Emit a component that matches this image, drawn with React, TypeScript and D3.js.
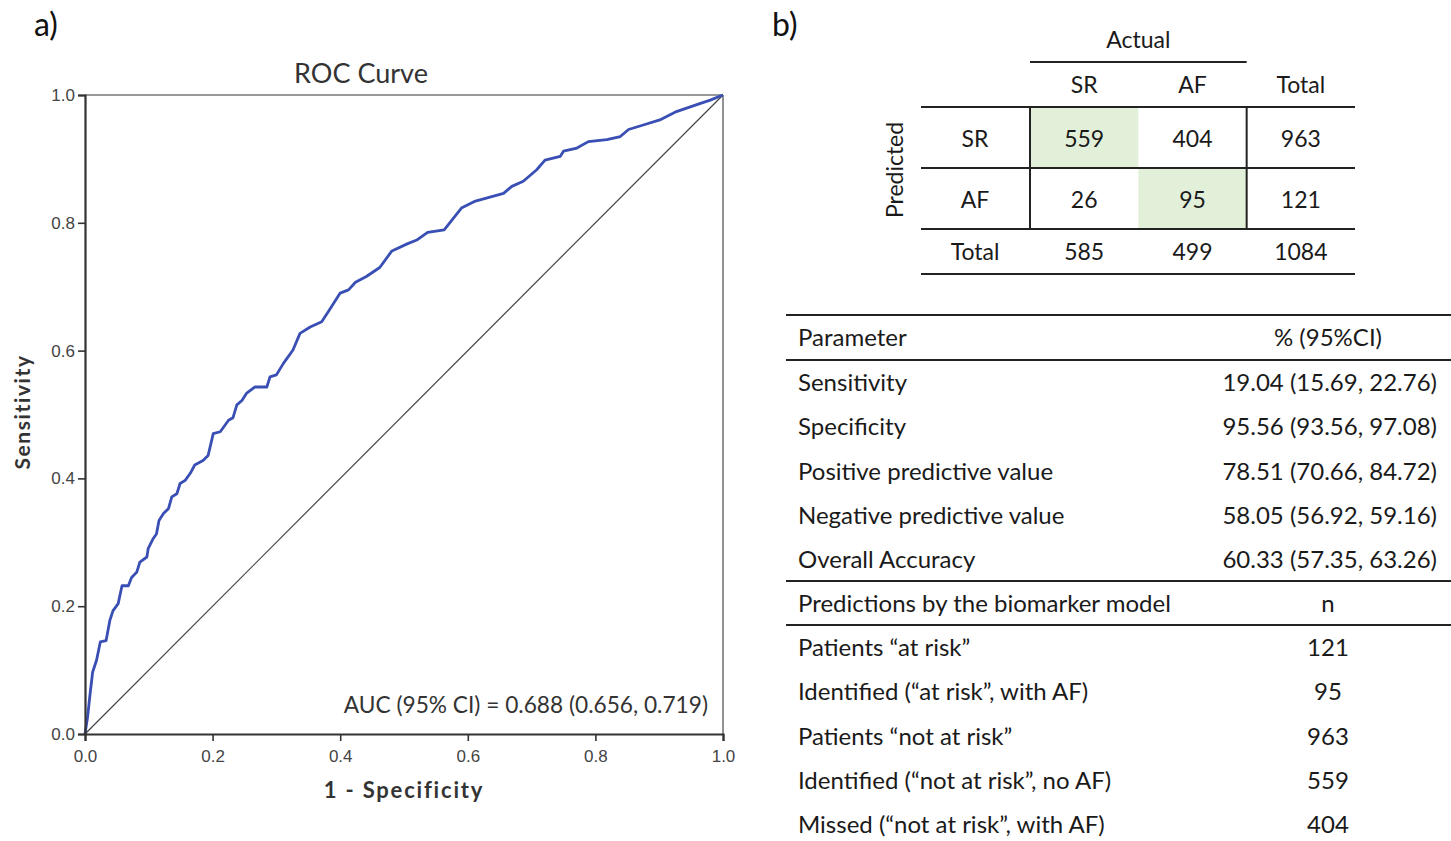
import { useEffect, useRef } from "react"
import * as d3 from "d3"

// ROC curve points (1 - specificity, sensitivity)
const fpr = [
  0, 0.004, 0.008, 0.012, 0.018, 0.024, 0.033, 0.039, 0.044, 0.052, 0.058, 0.068, 0.073, 0.081, 0.086,
  0.097, 0.099, 0.107, 0.112, 0.116, 0.123, 0.131, 0.136, 0.144, 0.149, 0.157, 0.165, 0.172, 0.185, 0.193,
  0.201, 0.212, 0.225, 0.232, 0.238, 0.246, 0.253, 0.266, 0.285, 0.29, 0.3, 0.311, 0.326, 0.337, 0.353,
  0.371, 0.382, 0.4, 0.413, 0.424, 0.441, 0.462, 0.481, 0.505, 0.52, 0.537, 0.563, 0.59, 0.612, 0.656,
  0.669, 0.687, 0.708, 0.721, 0.745, 0.75, 0.771, 0.789, 0.818, 0.839, 0.852, 0.875, 0.901, 0.927, 0.959,
  0.98, 1.0,
]
const tpr = [
  0, 0.026, 0.063, 0.097, 0.115, 0.144, 0.146, 0.178, 0.193, 0.204, 0.232, 0.232, 0.245, 0.253, 0.269,
  0.277, 0.29, 0.306, 0.313, 0.334, 0.345, 0.353, 0.371, 0.376, 0.392, 0.397, 0.408, 0.421, 0.428, 0.436,
  0.47, 0.473, 0.491, 0.495, 0.515, 0.522, 0.533, 0.543, 0.543, 0.559, 0.562, 0.58, 0.601, 0.627, 0.637,
  0.645, 0.662, 0.69, 0.695, 0.707, 0.716, 0.73, 0.756, 0.767, 0.773, 0.785, 0.789, 0.823, 0.834, 0.846,
  0.857, 0.865, 0.883, 0.898, 0.904, 0.912, 0.917, 0.927, 0.93, 0.935, 0.946, 0.953, 0.961, 0.974, 0.985,
  0.992, 1.0,
]
const axisTicks = [0, 0.2, 0.4, 0.6, 0.8, 1.0]
const aucLabel = "AUC (95% CI) = 0.688 (0.656, 0.719)"

// confusion matrix
const actualCols = ["SR", "AF", "Total"]
const predictedRows = ["SR", "AF"]
const confusionValues = [
  [559, 404, 963],
  [26, 95, 121],
]
const totalRow = [585, 499, 1084]

// performance table
const paramNames = [
  "Sensitivity",
  "Specificity",
  "Positive predictive value",
  "Negative predictive value",
  "Overall Accuracy",
]
const paramValues = [
  "19.04 (15.69, 22.76)",
  "95.56 (93.56, 97.08)",
  "78.51 (70.66, 84.72)",
  "58.05 (56.92, 59.16)",
  "60.33 (57.35, 63.26)",
]
const predNames = [
  "Patients \u201cat risk\u201d",
  "Identified (\u201cat risk\u201d, with AF)",
  "Patients \u201cnot at risk\u201d",
  "Identified (\u201cnot at risk\u201d, no AF)",
  "Missed (\u201cnot at risk\u201d, with AF)",
]
const predValues = [121, 95, 963, 559, 404]

const W = 1451
const H = 841
const FONT = "Lato, 'Open Sans', sans-serif"

export default function App() {
  const svgRef = useRef<SVGSVGElement>(null)

  useEffect(() => {
    if (!svgRef.current) return
    const svg = d3.select(svgRef.current)
    svg.selectAll("*").remove()

    // ---------- a) ROC curve ----------
    const x = d3.scaleLinear().domain([0, 1]).range([85, 723])
    const y = d3.scaleLinear().domain([0, 1]).range([734, 95])

    svg.append("text").attr("x", 34).attr("y", 36).text("a)")
      .style("font-family", FONT).style("font-size", "32px").style("fill", "#111")

    svg.append("text").attr("x", 361).attr("y", 83).attr("text-anchor", "middle").text("ROC Curve")
      .style("font-family", FONT).style("font-size", "27px").style("fill", "#333")

    // top / right frame
    svg.append("line").attr("x1", x(0)).attr("x2", x(1)).attr("y1", y(1)).attr("y2", y(1))
      .style("stroke", "#777").style("stroke-width", 1.6)
    svg.append("line").attr("x1", x(1)).attr("x2", x(1)).attr("y1", y(0)).attr("y2", y(1))
      .style("stroke", "#777").style("stroke-width", 1.6)

    // reference diagonal
    svg.append("line").attr("x1", x(0)).attr("y1", y(0)).attr("x2", x(1)).attr("y2", y(1))
      .style("stroke", "#444").style("stroke-width", 1.2)

    const pts = fpr.map((f, i) => [f, tpr[i]] as [number, number])
    const line = d3.line<[number, number]>().x((d) => x(d[0])).y((d) => y(d[1]))
    svg.append("path").attr("d", line(pts) ?? "")
      .style("fill", "none").style("stroke", "#3a4fb4").style("stroke-width", 2.8)
      .style("stroke-linejoin", "round")

    const fmt = d3.format(".1f")
    const gx = svg.append("g").attr("transform", `translate(0,${y(0)})`)
      .call(d3.axisBottom(x).tickValues(axisTicks).tickFormat((d) => fmt(d as number)).tickSize(7).tickPadding(9))
    const gy = svg.append("g").attr("transform", `translate(${x(0)},0)`)
      .call(d3.axisLeft(y).tickValues(axisTicks).tickFormat((d) => fmt(d as number)).tickSize(7).tickPadding(3))
    ;[gx, gy].forEach((g) => {
      g.select(".domain").style("stroke", "#333").style("stroke-width", 2.2)
      g.selectAll(".tick line").style("stroke", "#333").style("stroke-width", 1.6)
      g.selectAll(".tick text").style("font-family", "'Liberation Sans', Arial, sans-serif")
        .style("font-size", "17px").style("fill", "#444")
    })

    svg.append("text").attr("transform", "translate(30,412) rotate(-90)").attr("text-anchor", "middle")
      .text("Sensitivity")
      .style("font-family", FONT).style("font-size", "21px").style("font-weight", "bold")
      .style("letter-spacing", "1.6px").style("fill", "#333")

    svg.append("text").attr("x", 404).attr("y", 798).attr("text-anchor", "middle").text("1 - Specificity")
      .style("font-family", FONT).style("font-size", "22px").style("font-weight", "bold")
      .style("letter-spacing", "1.8px").style("fill", "#333")

    svg.append("text").attr("x", 708).attr("y", 713).attr("text-anchor", "end").text(aucLabel)
      .style("font-family", FONT).style("font-size", "22.7px").style("fill", "#333")

    // ---------- b) confusion matrix ----------
    svg.append("text").attr("x", 772).attr("y", 36).text("b)")
      .style("font-family", FONT).style("font-size", "32px").style("fill", "#111")

    const tFont = (sel: d3.Selection<SVGTextElement, unknown, null, undefined>) =>
      sel.style("font-family", FONT).style("font-size", "23px").style("fill", "#1a1a1a")

    const colX = d3.scaleBand<string>().domain(actualCols).range([1030, 1355])
    const rowY = d3.scaleBand<string>().domain(predictedRows).range([107, 229])
    const labelX = 975
    const leftEdge = 921
    const totalTop = 229
    const totalBottom = 274

    // shaded diagonal cells
    predictedRows.forEach((r, i) => {
      svg.append("rect").attr("x", colX(actualCols[i])!).attr("y", rowY(r)!)
        .attr("width", colX.bandwidth()).attr("height", rowY.bandwidth())
        .style("fill", "#e2efd9")
    })

    svg.append("text").attr("x", (colX("SR")! + colX("AF")! + colX.bandwidth()) / 2).attr("y", 48)
      .attr("text-anchor", "middle").text("Actual").call(tFont)
    svg.append("line").attr("x1", colX("SR")!).attr("x2", colX("AF")! + colX.bandwidth())
      .attr("y1", 62).attr("y2", 62).style("stroke", "#222").style("stroke-width", 2)

    actualCols.forEach((c) => {
      svg.append("text").attr("x", colX(c)! + colX.bandwidth() / 2).attr("y", 93)
        .attr("text-anchor", "middle").text(c).call(tFont)
    })

    predictedRows.forEach((r, i) => {
      const cy = rowY(r)! + rowY.bandwidth() / 2 + 9
      svg.append("text").attr("x", labelX).attr("y", cy).attr("text-anchor", "middle").text(r).call(tFont)
      actualCols.forEach((c, j) => {
        svg.append("text").attr("x", colX(c)! + colX.bandwidth() / 2).attr("y", cy)
          .attr("text-anchor", "middle").text(confusionValues[i][j]).call(tFont)
      })
    })
    const totalY = (totalTop + totalBottom) / 2 + 8
    svg.append("text").attr("x", labelX).attr("y", totalY).attr("text-anchor", "middle").text("Total").call(tFont)
    actualCols.forEach((c, j) => {
      svg.append("text").attr("x", colX(c)! + colX.bandwidth() / 2).attr("y", totalY)
        .attr("text-anchor", "middle").text(totalRow[j]).call(tFont)
    })

    ;[rowY("SR")!, rowY("AF")!, totalTop, totalBottom].forEach((ly) => {
      svg.append("line").attr("x1", leftEdge).attr("x2", 1355).attr("y1", ly).attr("y2", ly)
        .style("stroke", "#222").style("stroke-width", 2)
    })
    ;[colX("SR")!, colX("Total")!].forEach((lx) => {
      svg.append("line").attr("x1", lx).attr("x2", lx).attr("y1", rowY("SR")!).attr("y2", totalTop)
        .style("stroke", "#222").style("stroke-width", 2)
    })

    svg.append("text").attr("transform", "translate(903,170) rotate(-90)").attr("text-anchor", "middle")
      .text("Predicted").call(tFont)

    // ---------- performance table ----------
    const sFont = (sel: d3.Selection<SVGTextElement, unknown, null, undefined>) =>
      sel.style("font-family", FONT).style("font-size", "24px").style("fill", "#1a1a1a")
    const tx0 = 786
    const tx1 = W
    const textX = 798
    const valRight = 1437
    const valMid = 1328

    const hLine = (ly: number) =>
      svg.append("line").attr("x1", tx0).attr("x2", tx1).attr("y1", ly).attr("y2", ly)
        .style("stroke", "#222").style("stroke-width", 2)

    hLine(315)
    hLine(360)
    svg.append("text").attr("x", textX).attr("y", 346).text("Parameter").call(sFont)
    svg.append("text").attr("x", valMid).attr("y", 346).attr("text-anchor", "middle").text("% (95%CI)").call(sFont)

    const paramY = d3.scaleBand<string>().domain(paramNames).range([360, 581])
    paramNames.forEach((p, i) => {
      const cy = paramY(p)! + paramY.bandwidth() / 2 + 9
      svg.append("text").attr("x", textX).attr("y", cy).text(p).call(sFont)
      svg.append("text").attr("x", valRight).attr("y", cy).attr("text-anchor", "end").text(paramValues[i]).call(sFont)
    })

    hLine(581)
    hLine(625)
    svg.append("text").attr("x", textX).attr("y", 612).text("Predictions by the biomarker model").call(sFont)
    svg.append("text").attr("x", valMid).attr("y", 612).attr("text-anchor", "middle").text("n").call(sFont)

    const predY = d3.scaleBand<string>().domain(predNames).range([625, 625 + 5 * paramY.step()])
    predNames.forEach((p, i) => {
      const cy = predY(p)! + predY.bandwidth() / 2 + 9
      svg.append("text").attr("x", textX).attr("y", cy).text(p).call(sFont)
      svg.append("text").attr("x", valMid).attr("y", cy).attr("text-anchor", "middle").text(predValues[i]).call(sFont)
    })
  }, [])

  return (
    <svg
      ref={svgRef}
      width={W}
      height={H}
      viewBox={`0 0 ${W} ${H}`}
      style={{ position: "absolute", left: 0, top: 0, background: "#fff" }}
    />
  )
}
